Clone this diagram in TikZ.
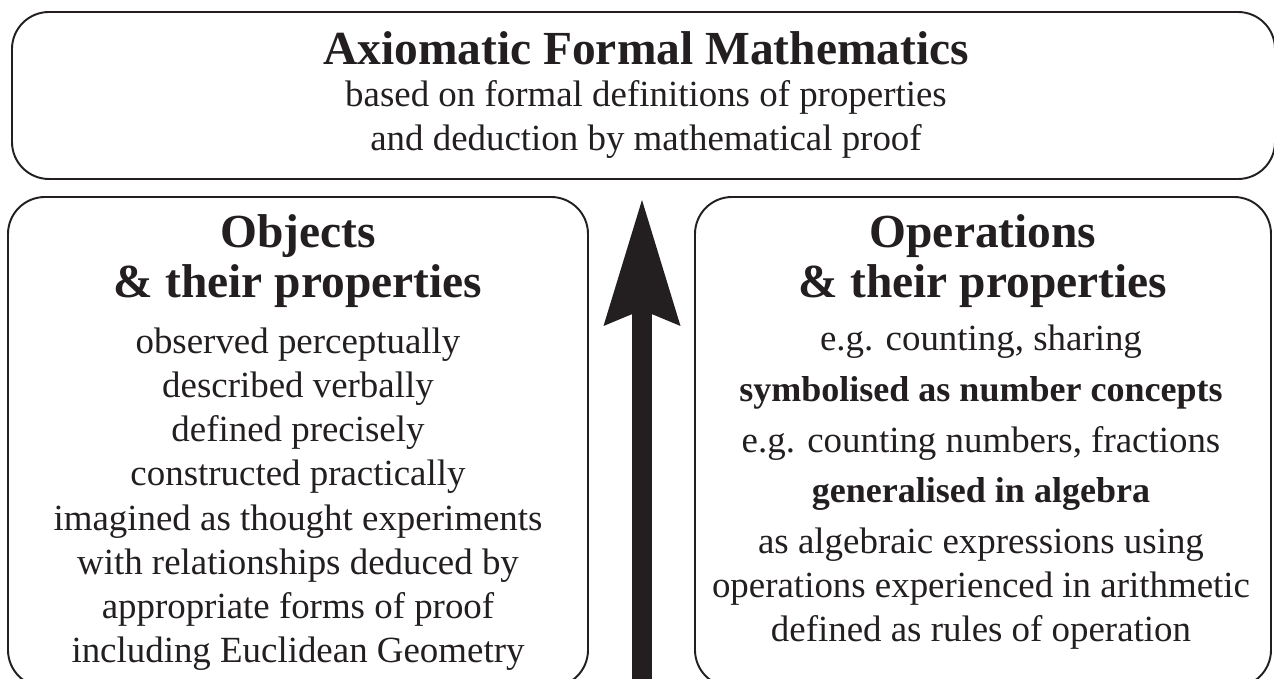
\documentclass[tikz,border=0pt]{standalone}
\usepackage{fontspec}
\setmainfont{Liberation Serif}
\usetikzlibrary{arrows.meta}
\definecolor{ink}{HTML}{231F20}

\begin{document}
\begin{tikzpicture}

\tikzstyle{BOX} = [rectangle, rounded corners=0.74cm, draw=ink, line width=1.1pt]
\tikzstyle{HEAD} = [align=center, text=ink, inner sep=0pt, font=\fontsize{27}{29}\selectfont\bfseries]
\tikzstyle{BODY} = [align=center, text=ink, inner sep=0pt, font=\fontsize{21}{25.2}\selectfont]
\tikzstyle{arrow} = [ink, line width=0.4cm, -{Stealth[length=2.52cm, width=1.54cm, inset=0.32cm, line width'=0pt]}]

\useasboundingbox (0,0) rectangle (25.48,-13.58);
\clip (0,0) rectangle (25.48,-13.58);

\node (AFM) [BOX, minimum width=25.26cm, minimum height=3.34cm] at (12.87,-1.91) {};
\node (OBJ) [BOX, minimum width=11.6cm, minimum height=9.8cm] at (5.96,-8.84) {};
\node (OPS) [BOX, minimum width=11.52cm, minimum height=9.8cm] at (19.66,-8.84) {};

% texts are anchored at the baseline of their last line
\node (afmtitle) [HEAD, anchor=base] at (12.92,-1.30) {Axiomatic Formal Mathematics};
\node (afmtext) [BODY, anchor=base] at (12.92,-3.02) {based on formal definitions of properties\\and deduction by mathematical proof};

\node (objtitle) [HEAD, anchor=base] at (5.96,-5.96) {Objects\\\& their properties};
\node (objtext) [BODY, anchor=base] at (5.96,-13.26) {observed perceptually\\described verbally\\defined precisely\\constructed practically\\imagined as thought experiments\\with relationships deduced by\\appropriate forms of proof\\including Euclidean Geometry};

\node (opstitle) [HEAD, anchor=base] at (19.66,-5.96) {Operations\\\& their properties};
\node (opstext) [BODY, anchor=base] at (19.62,-12.84) {e.g. counting, sharing\\[3.6pt]{\bfseries\fontsize{20.5}{25.2}\selectfont symbolised as number concepts}\\[3.6pt]e.g. counting numbers, fractions\\[3.6pt]{\bfseries\fontsize{20.5}{25.2}\selectfont generalised in algebra}\\[3.6pt]as algebraic expressions using\\operations experienced in arithmetic\\defined as rules of operation};

\coordinate (FOOT) at (12.84,-14.0);
\coordinate (TIP) at (12.84,-4.0);
\draw[arrow] (FOOT) -- (TIP);

\end{tikzpicture}
\end{document}
